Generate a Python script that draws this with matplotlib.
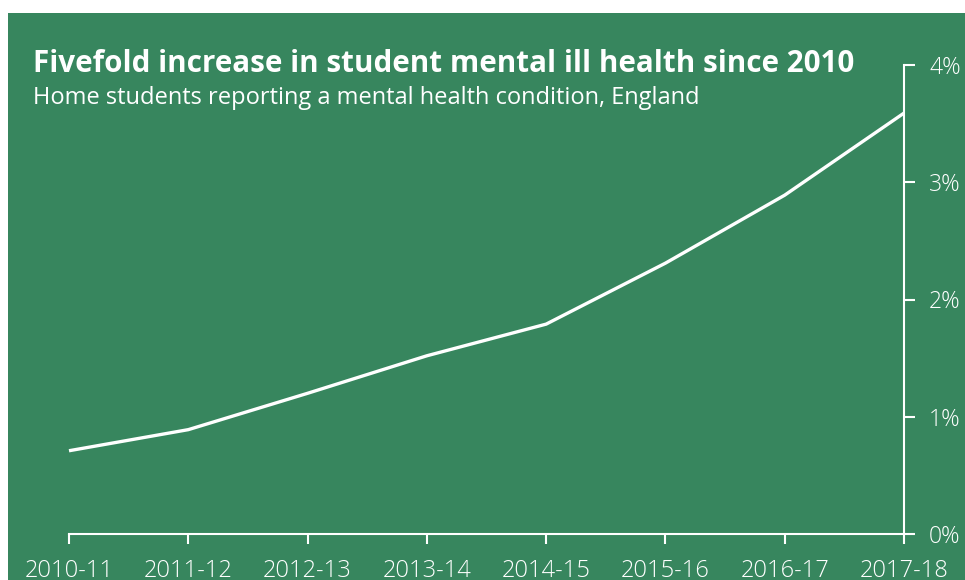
import matplotlib
matplotlib.use("Agg")
import matplotlib.pyplot as plt
from matplotlib.patches import Rectangle

# share of home students reporting a mental health condition (%)
years = ["2010-11", "2011-12", "2012-13", "2013-14", "2014-15", "2015-16", "2016-17", "2017-18"]
share = [0.71, 0.89, 1.20, 1.52, 1.79, 2.31, 2.89, 3.59]
y_ticks = [0, 1, 2, 3, 4]
y_labels = ["0%", "1%", "2%", "3%", "4%"]

green = "#37865e"
plt.rcParams["font.family"] = ["Open Sans", "DejaVu Sans"]

fig = plt.figure(figsize=(9.65, 5.8), dpi=100, facecolor="white")
# green panel, leaving a thin white margin at top and left
fig.patches.append(Rectangle((8 / 965, 0), 1, 1 - 13 / 580, transform=fig.transFigure,
                             facecolor=green, edgecolor="none", zorder=-5))

ax = fig.add_axes([69 / 965, 46 / 580, 835 / 965, 469 / 580])
ax.set_facecolor("none")
ax.plot(range(len(years)), share, color="white", lw=2.4, solid_capstyle="butt", clip_on=False)

ax.set_xlim(0, len(years) - 1)
ax.set_ylim(0, 4)
ax.set_xticks(range(len(years)))
ax.set_xticklabels(years, fontweight="light")
ax.yaxis.tick_right()
ax.set_yticks(y_ticks)
ax.set_yticklabels(y_labels, fontweight="light")

for side in ["top", "left"]:
    ax.spines[side].set_visible(False)
for side in ["bottom", "right"]:
    ax.spines[side].set_color("white")
    ax.spines[side].set_linewidth(1.5)
ax.tick_params(axis="x", colors="white", length=7, width=1.5, pad=11, labelsize=17)
ax.tick_params(axis="y", colors="white", length=8, width=1.5, pad=10, labelsize=16.5)

fig.text(33 / 965, 1 - 72 / 580, "Fivefold increase in student mental ill health since 2010",
         color="white", fontsize=21.3, fontweight="bold", ha="left", va="baseline")
fig.text(33 / 965, 1 - 104 / 580, "Home students reporting a mental health condition, England",
         color="white", fontsize=17, ha="left", va="baseline")

fig.savefig("out.png", dpi=100, facecolor="white")
